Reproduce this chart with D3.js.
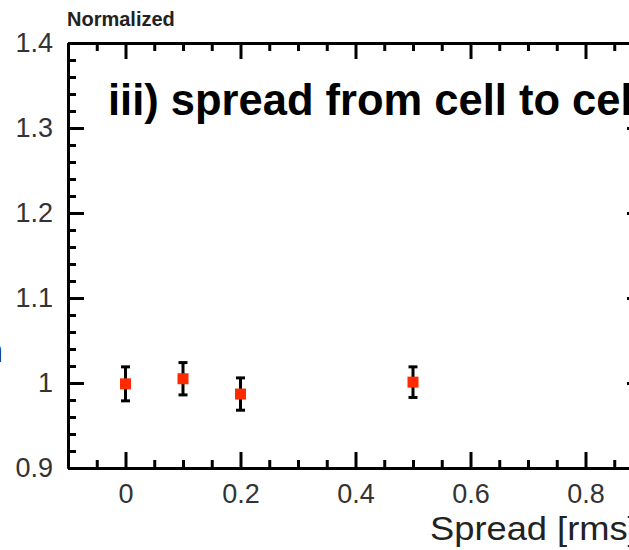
<!DOCTYPE html>
<html>
<head>
<meta charset="utf-8">
<script src="https://cdn.jsdelivr.net/npm/d3@7"></script>
<style>
  body { margin: 0; background: #fff; }
  svg { display: block; overflow: hidden; }
  .tick text { font-family: "Liberation Sans", Arial, sans-serif; fill: #333; }
</style>
</head>
<body>
<script>
// data
var spread = [0, 0.1, 0.2, 0.5];
var ratio = [0.999, 1.005, 0.987, 1.001];
var ratioErr = [0.020, 0.019, 0.019, 0.018];

var xTicks = [0, 0.2, 0.4, 0.6, 0.8];
var xTickLabels = ["0", "0.2", "0.4", "0.6", "0.8"];
var yTicks = [0.9, 1, 1.1, 1.2, 1.3, 1.4];
var yTickLabels = ["0.9", "1", "1.1", "1.2", "1.3", "1.4"];

var W = 629, H = 550;
var x = d3.scaleLinear().domain([-0.1, 0.9]).range([68, 643]);
var y = d3.scaleLinear().domain([0.9, 1.4]).range([468, 43]);

var svg = d3.select("body").append("svg").attr("width", W).attr("height", H);

function minors(lo, hi, step) {
  var out = [];
  for (var v = lo; v <= hi + 1e-9; v += step) out.push(+v.toFixed(3));
  return out;
}
var xMinor = minors(-0.1, 0.9, 0.05).filter(function (v) { return xTicks.indexOf(v) < 0; });
var yMinor = minors(0.9, 1.4, 0.02).filter(function (v) { return yTicks.indexOf(v) < 0; });

function styleAxis(g) {
  g.select(".domain").attr("stroke", "#000").attr("stroke-width", 3);
  g.selectAll(".tick line").attr("stroke", "#000").attr("stroke-width", 3);
}

// minor ticks
svg.append("g").attr("transform", "translate(0," + y(0.9) + ")")
  .call(d3.axisBottom(x).tickValues(xMinor).tickSize(-8).tickSizeOuter(0).tickFormat(""))
  .call(styleAxis);
svg.append("g").attr("transform", "translate(0," + y(1.4) + ")")
  .call(d3.axisTop(x).tickValues(xMinor).tickSize(-8).tickSizeOuter(0).tickFormat(""))
  .call(styleAxis);
svg.append("g").attr("transform", "translate(" + x(-0.1) + ",0)")
  .call(d3.axisLeft(y).tickValues(yMinor).tickSize(-8).tickSizeOuter(0).tickFormat(""))
  .call(styleAxis);
svg.append("g").attr("transform", "translate(" + x(0.9) + ",0)")
  .call(d3.axisRight(y).tickValues(yMinor).tickSize(-8).tickSizeOuter(0).tickFormat(""))
  .call(styleAxis);

// major ticks
svg.append("g").attr("transform", "translate(0," + y(0.9) + ")")
  .call(d3.axisBottom(x).tickValues(xTicks).tickSize(-16).tickSizeOuter(0).tickPadding(16)
    .tickFormat(function (d, i) { return xTickLabels[i]; }))
  .call(styleAxis)
  .selectAll("text").attr("font-size", 27);
svg.append("g").attr("transform", "translate(0," + y(1.4) + ")")
  .call(d3.axisTop(x).tickValues(xTicks).tickSize(-16).tickSizeOuter(0).tickFormat(""))
  .call(styleAxis);
svg.append("g").attr("transform", "translate(" + x(-0.1) + ",0)")
  .call(d3.axisLeft(y).tickValues(yTicks).tickSize(-16).tickSizeOuter(0).tickPadding(15)
    .tickFormat(function (d, i) { return yTickLabels[i]; }))
  .call(styleAxis)
  .selectAll("text").attr("font-size", 27);
svg.append("g").attr("transform", "translate(" + x(0.9) + ",0)")
  .call(d3.axisRight(y).tickValues(yTicks).tickSize(-16).tickSizeOuter(0).tickFormat(""))
  .call(styleAxis);

// error bars
var pts = spread.map(function (s, i) { return { x: s, y: ratio[i], e: ratioErr[i] }; });
var eb = svg.append("g").attr("stroke", "#000").attr("stroke-width", 3);
eb.selectAll(".bar").data(pts).enter().append("line")
  .attr("x1", function (d) { return x(d.x); }).attr("x2", function (d) { return x(d.x); })
  .attr("y1", function (d) { return y(d.y - d.e); }).attr("y2", function (d) { return y(d.y + d.e); });
[-1, 1].forEach(function (sgn) {
  eb.selectAll(".cap" + sgn).data(pts).enter().append("line")
    .attr("x1", function (d) { return x(d.x) - 4.5; }).attr("x2", function (d) { return x(d.x) + 4.5; })
    .attr("y1", function (d) { return y(d.y + sgn * d.e); }).attr("y2", function (d) { return y(d.y + sgn * d.e); });
});

// markers
svg.append("g").selectAll("rect").data(pts).enter().append("rect")
  .attr("x", function (d) { return x(d.x) - 5.5; })
  .attr("y", function (d) { return y(d.y) - 5.5; })
  .attr("width", 11).attr("height", 11)
  .attr("fill", "#ff2a00");

// texts
svg.append("text").attr("x", 67).attr("y", 26)
  .attr("font-family", "Liberation Sans, Arial, sans-serif").attr("font-weight", "bold")
  .attr("font-size", 20).attr("fill", "#222").text("Normalized");

svg.append("text").attr("x", 108).attr("y", 115)
  .attr("font-family", "Liberation Sans, Arial, sans-serif").attr("font-weight", "bold")
  .attr("font-size", 43.5).attr("fill", "#000").text("iii) spread from cell to cell");

svg.append("text").attr("transform", "translate(430,540) scale(1.1,1)")
  .attr("font-family", "Liberation Sans, Arial, sans-serif")
  .attr("font-size", 33).attr("fill", "#222").text("Spread [rms]");

svg.append("text").attr("x", 3).attr("y", 362).attr("text-anchor", "end")
  .attr("font-family", "Liberation Sans, Arial, sans-serif")
  .attr("font-size", 34).attr("fill", "#000").text("resolution");
</script>
</body>
</html>
